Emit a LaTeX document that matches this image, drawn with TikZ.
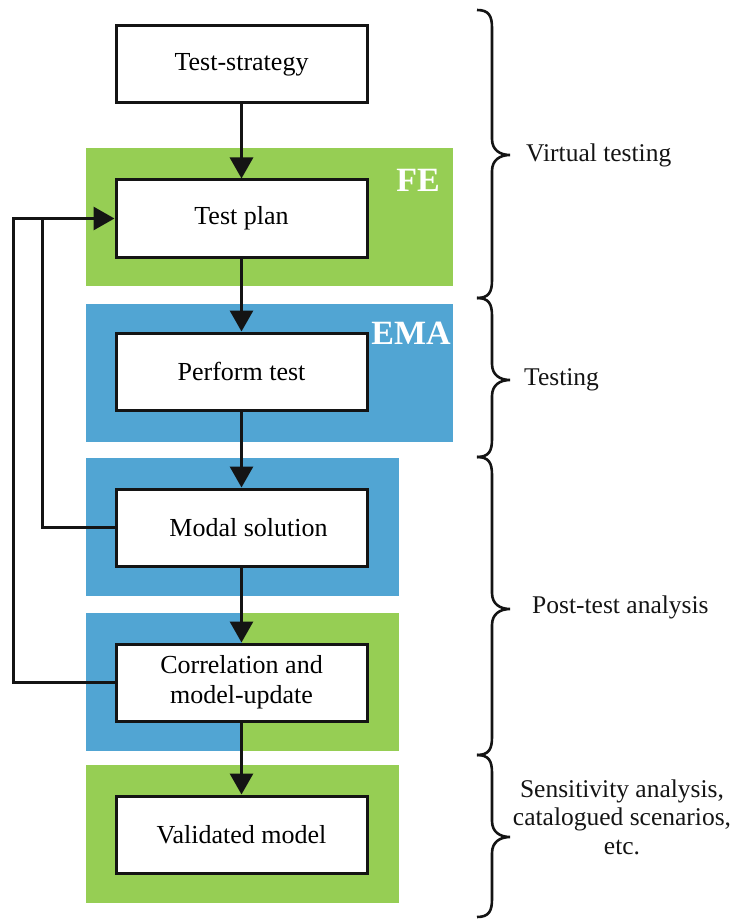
\documentclass[tikz,border=0pt]{standalone}
\usepackage{fontspec}
\setmainfont{Liberation Serif}
\usetikzlibrary{arrows.meta}
\definecolor{pgreen}{RGB}{150,206,84}
\definecolor{pblue}{RGB}{81,165,211}
\definecolor{ink}{RGB}{20,20,20}
\tikzset{
  stepbox/.style={draw=ink, fill=white, line width=3pt, minimum width=251pt, minimum height=77pt,
    inner sep=0pt, align=center, font=\fontsize{26}{30}\selectfont},
  flow/.style={draw=ink, line width=3pt, -{Triangle[length=21pt,width=23pt]}},
  fback/.style={draw=ink, line width=3pt},
  panellabel/.style={text=white, font=\fontsize{34}{38}\selectfont\bfseries, inner sep=0pt},
  sidelabel/.style={font=\fontsize{25.5}{28.5}\selectfont, align=center, inner sep=0pt, text=ink},
  bracestyle/.style={draw=ink, line width=2.6pt}
}
\newcommand{\curlybrace}[3]{%
  \draw[bracestyle] (477,#1) .. controls (489,#1) and (492,#1+6) .. (492,#1+18)
    -- (492,#3-16) .. controls (492,#3-5) and (500,#3) .. (510,#3)
    .. controls (500,#3) and (492,#3+5) .. (492,#3+16)
    -- (492,#2-18) .. controls (492,#2-6) and (489,#2) .. (477,#2);}
\begin{document}
\begin{tikzpicture}[x=1pt,y=-1pt]
\useasboundingbox (0,0) rectangle (745,920);
% panels
\fill[pgreen] (86,148) rectangle (453,286);
\fill[pblue] (86,304) rectangle (453,442);
\fill[pblue] (86,458) rectangle (399,596);
\fill[pblue] (86,613) rectangle (242,751);
\fill[pgreen] (242,613) rectangle (399,751);
\fill[pgreen] (86,765) rectangle (399,903);
\node[panellabel] (fe) at (418,180) {FE};
\node[panellabel] (ema) at (411,333) {EMA};
% boxes
\node[stepbox] (strat) at (241.5,64.5) {Test-strategy};
\node[stepbox] (plan) at (241.5,218.5) {Test plan};
\node[stepbox] (perf) at (241.5,371.5) {Perform test};
\node[stepbox] (modal) at (241.5,527.5) {\hspace*{14pt}Modal solution};
\node[stepbox] (corr) at (241.5,682.5) {Correlation and\\model-update};
\node[stepbox] (valid) at (241.5,834.5) {Validated model};
% flow arrows
\draw[flow] (strat) -- (plan);
\draw[flow] (plan) -- (perf);
\draw[flow] (perf) -- (modal);
\draw[flow] (modal) -- (corr);
\draw[flow] (corr) -- (valid);
% feedback
\coordinate (outer) at (13,682.5);
\coordinate (inner) at (42,218.5);
\draw[fback] (corr.west) -- (outer) |- (inner);
\draw[flow] (inner) -- (plan.west);
\draw[fback] (modal.west) -| (inner);
% braces
\curlybrace{10}{298}{155}
\curlybrace{298}{457}{380}
\curlybrace{457}{755}{609}
\curlybrace{755}{917}{837}
\node[sidelabel, anchor=west] (l1) at (526,155) {Virtual testing};
\node[sidelabel, anchor=west] (l2) at (524,380) {Testing};
\node[sidelabel, anchor=west] (l3) at (532,607) {Post-test analysis};
\node[sidelabel] (l4) at (622,817) {Sensitivity analysis,\\catalogued scenarios,\\etc.};
\end{tikzpicture}
\end{document}
